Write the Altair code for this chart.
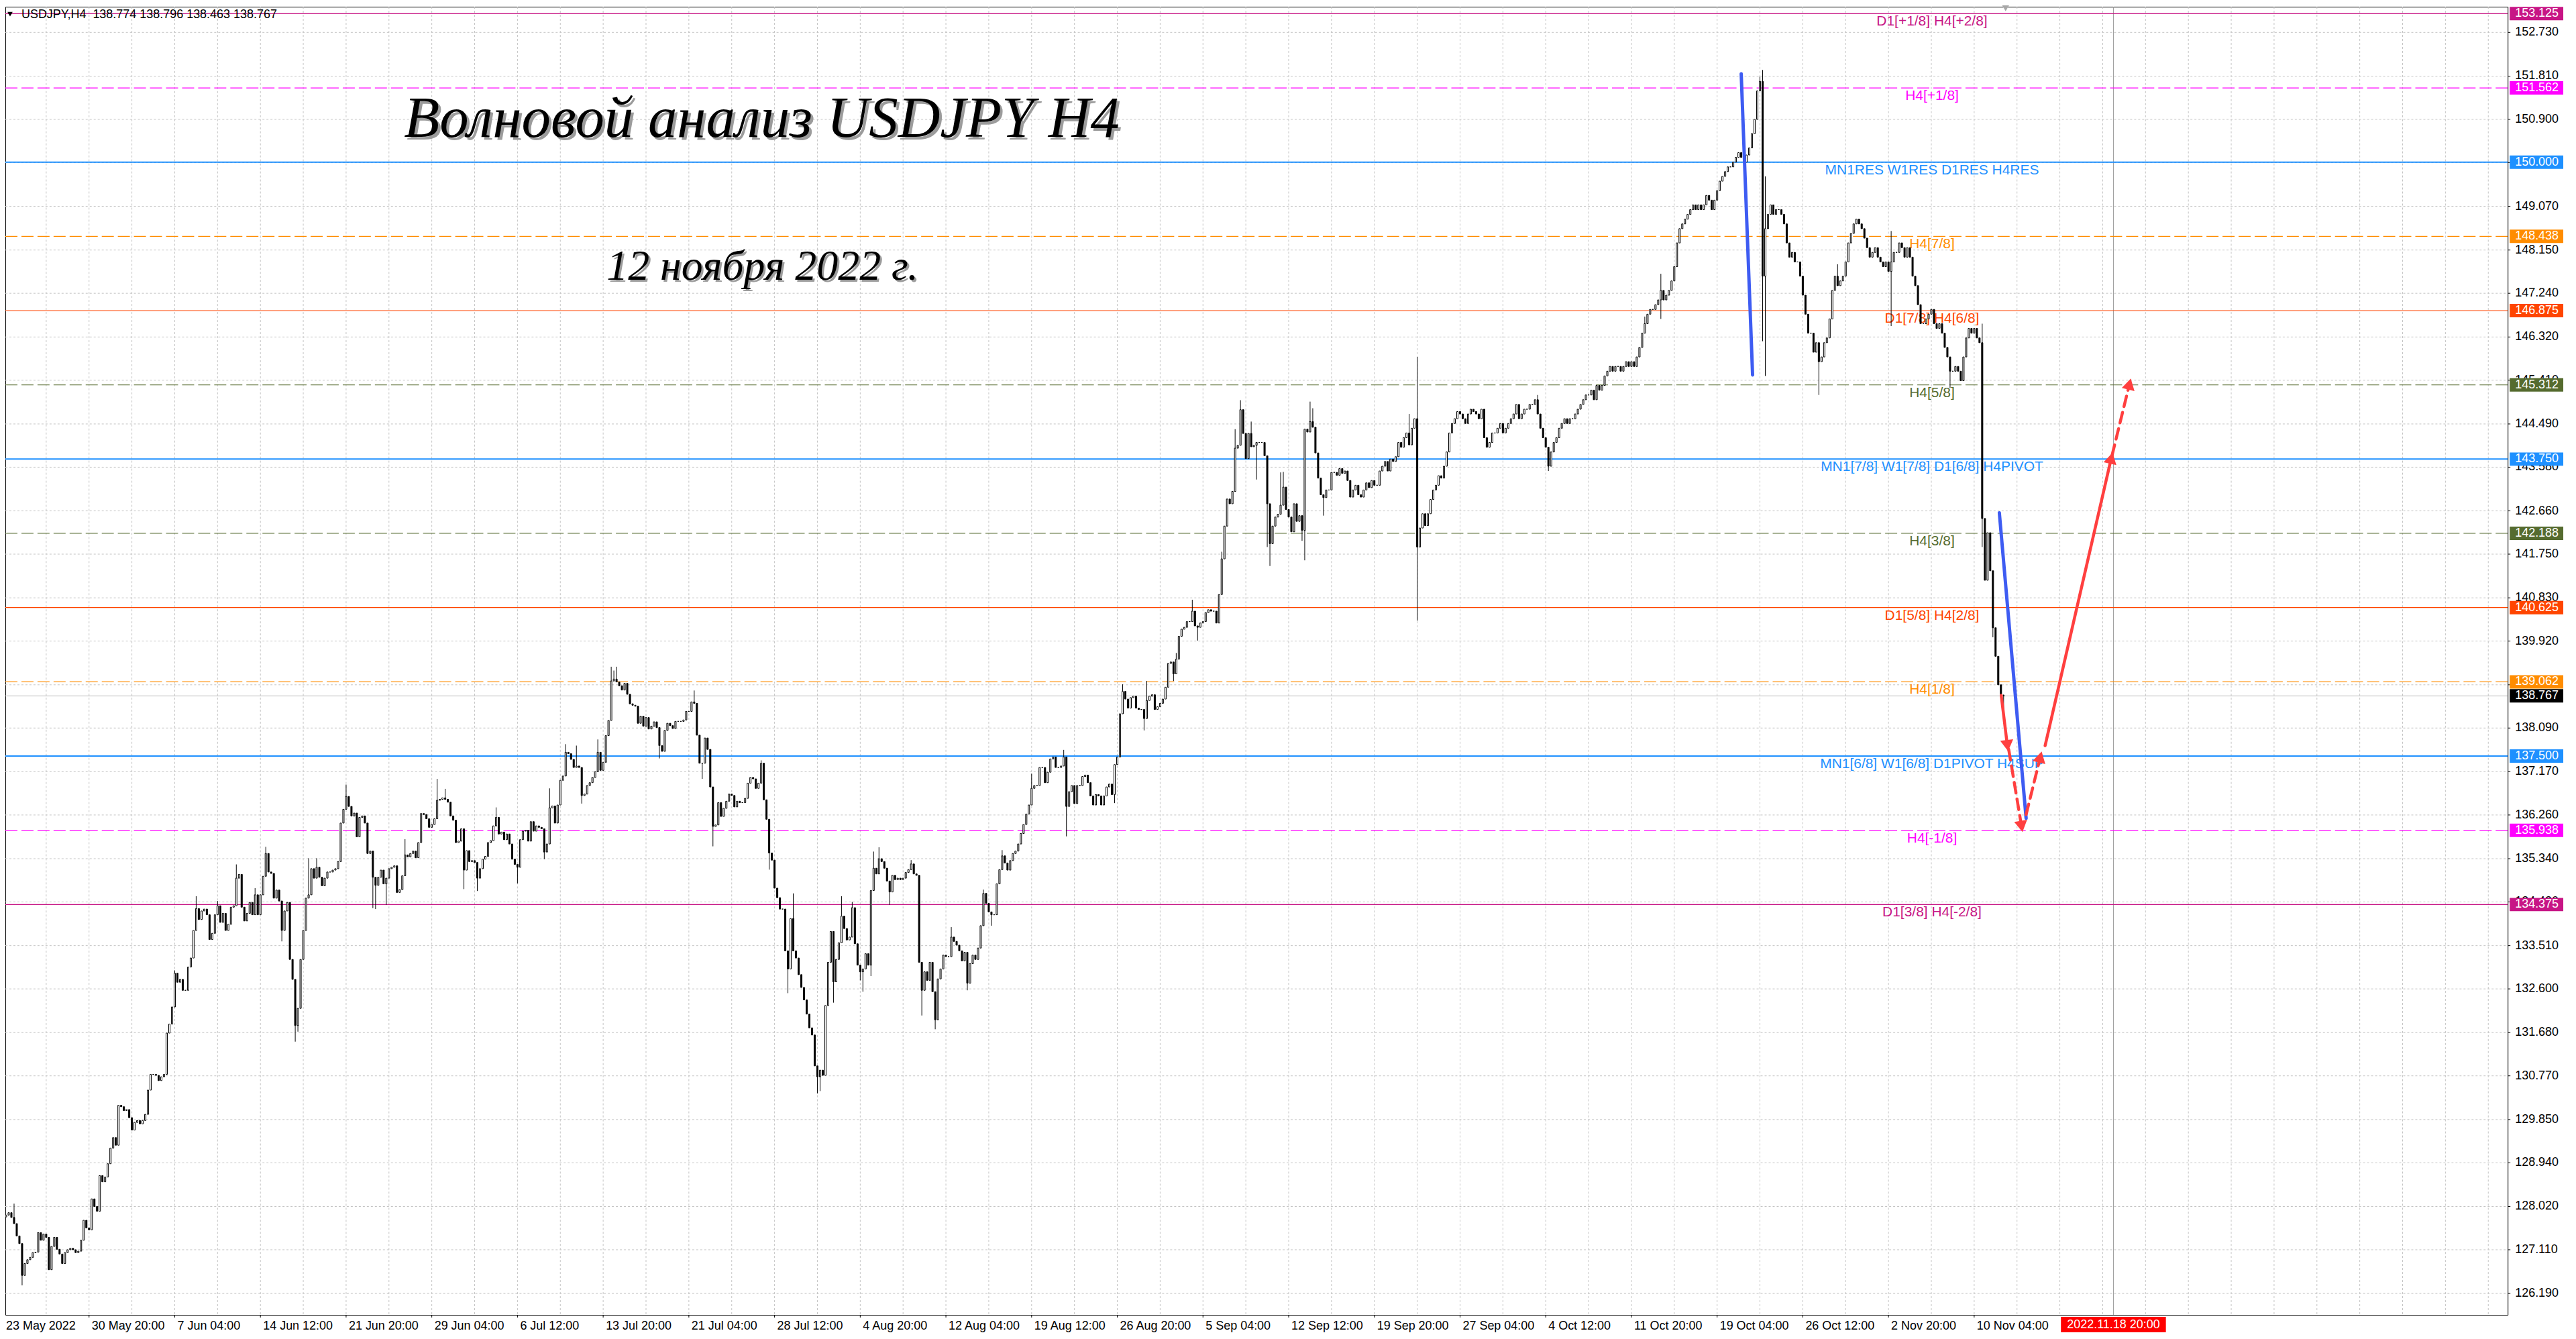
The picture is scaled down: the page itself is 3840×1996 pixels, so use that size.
import math
import altair as alt
import pandas as pd

# ---------------- layout ----------------
W, H = 3738, 1954
X0, X1 = 0.75, 935.25          # bar-index domain (4 px per bar)
Y0, Y1 = 125.74, 153.27        # price domain
PX_BAR = W / (X1 - X0)
PX_PRICE = H / (Y1 - Y0)

# ---------------- data ----------------
first_open = 127.37
closes_a = [127.80, 127.84, 127.89, 127.79, 127.66, 127.40, 127.24, 126.57, 126.82, 126.90,
            126.95, 127.05, 127.06, 127.47, 127.31, 127.44, 127.37, 126.69, 127.18, 127.37,
            127.12, 127.02, 126.82, 127.05, 127.11, 127.14, 127.11, 127.05, 127.08, 127.31,
            127.73, 127.57, 127.53, 128.18, 128.02, 127.92, 128.67, 128.54, 128.64, 128.92,
            129.25, 129.47, 129.31, 130.15, 130.12, 130.04, 130.06, 129.89, 129.63, 129.79,
            129.83, 129.76, 129.83, 129.96, 130.47, 130.80, 130.80, 130.78, 130.67, 130.75,
            130.80, 131.67, 131.86, 132.22, 132.93, 132.74, 132.80, 132.57, 132.57, 133.06,
            133.25, 133.83, 134.29, 134.06, 134.24, 134.28, 134.16, 133.64, 133.77, 134.16,
            134.35, 134.00, 134.19, 133.83, 133.96, 134.32, 134.35, 134.93, 135.01, 134.32,
            134.03, 134.19, 134.42, 134.16, 134.58, 134.16, 134.58, 134.97, 135.45, 135.06,
            135.03, 134.51, 134.68, 134.45, 133.83, 134.24, 134.42, 133.22, 132.80, 131.83,
            132.19, 133.22, 133.83, 134.51, 134.58, 135.13, 134.93, 135.16, 134.95, 134.77,
            134.93, 135.06, 135.06, 135.10]
closes_b = [135.13, 135.28, 136.09, 136.38, 136.65, 136.44, 136.24, 136.30, 135.80, 136.21,
            136.24, 136.09, 135.45, 135.50, 134.95, 134.78, 134.95, 135.10, 134.81, 134.93,
            135.13, 135.16, 135.19, 134.63, 134.69, 134.98, 135.42, 135.38, 135.45, 135.50,
            135.36, 135.68, 136.29, 136.27, 136.18, 136.00, 136.06, 136.18, 136.57, 136.59,
            136.62, 136.59, 136.53, 136.24, 136.15, 135.68, 135.71, 135.97, 135.10, 135.51,
            135.28, 135.30, 135.26, 134.93, 135.13, 135.33, 135.39, 135.68, 135.72, 136.03,
            136.21, 135.86, 135.90, 135.74, 135.86, 135.65, 135.33, 135.22, 135.16, 135.74,
            135.92, 135.94, 135.71, 136.12, 135.92, 136.03, 136.00, 135.97, 135.48, 135.65,
            136.41, 136.45, 136.09, 136.47, 136.99, 137.08, 137.58, 137.55, 137.43, 137.26,
            137.29, 137.26, 136.67, 136.70, 136.88, 136.94, 137.05, 137.17, 137.58, 137.20,
            137.37, 137.93, 138.25, 139.08, 139.12, 139.06, 138.98, 138.89, 139.03, 138.80,
            138.60, 138.57, 138.55, 138.19, 138.34, 138.13, 138.31, 138.07, 138.13, 138.22,
            138.10, 137.72, 137.60, 138.04, 138.19]
closes_c = [138.14, 138.08, 138.23, 138.23, 138.23, 138.26, 138.44, 138.44, 138.64, 138.61,
            137.94, 137.35, 137.35, 137.88, 137.64, 136.85, 136.02, 136.05, 136.52, 136.23,
            136.40, 136.55, 136.70, 136.67, 136.43, 136.55, 136.52, 136.52, 136.61, 136.93,
            137.05, 137.02, 136.82, 136.93, 137.35, 136.58, 136.17, 135.46, 135.31, 134.72,
            134.52, 134.28, 134.28, 133.40, 133.02, 134.08, 133.40, 133.25, 132.90, 132.63,
            132.37, 132.07, 131.78, 131.63, 130.98, 130.75, 130.89, 130.78, 132.25, 133.16,
            133.81, 132.75, 133.22, 133.57, 134.13, 133.87, 133.63, 133.69, 134.31, 133.55,
            133.10, 132.96, 133.02, 133.34, 133.10, 134.67, 135.14, 135.02, 135.34, 135.28,
            135.14, 134.87, 134.64, 134.99, 134.90, 134.93, 134.90, 134.93, 135.05, 135.11,
            135.23, 135.02, 134.99, 133.16, 132.57, 132.96, 132.78, 133.16, 132.54, 131.95,
            132.81, 133.02, 133.31, 133.28, 133.28, 133.69, 133.60, 133.52, 133.40, 133.19,
            133.37, 132.72, 133.13, 133.31, 133.22, 133.46, 133.93, 134.61, 134.40, 134.22,
            134.16, 134.16, 134.81, 135.11, 135.40]
closes_d = [135.25, 135.10, 135.30, 135.45, 135.50,
            135.65, 135.87, 136.06, 136.28, 136.47, 136.82, 136.88, 136.88, 137.26, 137.26,
            136.94, 137.16, 137.44, 137.48, 137.26, 137.26, 137.29, 137.48, 136.44, 136.75,
            136.88, 136.50, 136.88, 136.88, 137.07, 137.10, 136.94, 136.66, 136.47, 136.69,
            136.66, 136.47, 136.66, 136.85, 136.91, 136.69, 137.32, 137.48, 138.39, 138.86,
            138.70, 138.51, 138.73, 138.76, 138.51, 138.48, 138.48, 138.29, 138.67, 138.76,
            138.79, 138.48, 138.54, 138.61, 138.70, 138.95, 139.45, 139.48, 139.23, 139.54,
            140.02, 140.17, 140.21, 140.33, 140.33, 140.55, 140.24, 140.21, 140.30, 140.33,
            140.52, 140.58, 140.55, 140.55, 140.30, 140.90, 141.65, 142.34, 142.91, 142.81,
            143.07, 143.98, 144.04, 144.79, 144.29, 143.76, 144.29, 144.01, 144.04, 144.10,
            144.10, 144.10, 143.82, 142.81, 141.97, 142.34, 142.53, 142.59, 142.78, 143.16,
            142.69, 142.53, 142.22, 142.81, 142.44, 142.56, 142.25, 144.38, 144.32, 144.54,
            144.42, 143.88, 143.35, 143.00, 142.94, 143.10, 143.10, 143.47, 143.47, 143.41]
closes_e = [143.55, 143.45, 143.50,
            143.30, 142.95, 143.10, 143.20, 143.00, 142.95,
            143.10, 143.25, 143.15, 143.30, 143.20, 143.20,
            143.50, 143.60, 143.70, 143.50, 143.75, 143.70,
            143.80, 144.10, 144.00, 144.20, 144.30, 144.05,
            144.40, 144.60, 141.90, 142.30, 142.60, 142.35,
            142.60, 142.90, 143.10, 143.20, 143.40, 143.35,
            143.60, 143.90, 144.30, 144.50, 144.60, 144.75,
            144.70, 144.60, 144.50, 144.70, 144.80, 144.75,
            144.70, 144.60, 144.80, 144.20, 144.00, 144.10,
            144.30, 144.30, 144.40, 144.50, 144.30, 144.40,
            144.50, 144.60, 144.70, 144.90, 144.60, 144.70,
            144.80, 144.80, 144.90, 144.90, 145.00, 144.70,
            144.40, 144.20, 144.00, 143.60, 143.90, 144.10,
            144.20, 144.40, 144.50, 144.60, 144.50, 144.60,
            144.60, 144.70, 144.80, 144.90, 145.00, 145.10,
            145.10, 145.20, 145.00, 145.30, 145.20, 145.30,
            145.50, 145.60, 145.70, 145.60, 145.70, 145.70,
            145.60, 145.70, 145.80, 145.70, 145.80, 145.70,
            145.90, 146.10, 146.40, 146.60, 146.80, 146.90,
            146.90, 147.00, 147.10, 147.30, 147.10, 147.20,
            147.30, 147.50, 147.80, 148.30, 148.60, 148.70,
            148.80, 148.90, 149.00, 149.10, 149.00, 149.10,
            149.00, 149.10, 149.30, 149.20, 149.00, 149.20,
            149.40, 149.60, 149.70, 149.80, 149.90, 149.90,
            150.00, 150.10, 150.20, 150.10, 150.00, 150.15,
            150.30, 150.60, 150.90, 151.50, 151.70, 147.60,
            148.60, 148.90, 149.10, 148.90, 149.00, 149.00,
            148.90, 148.70, 148.30, 148.00, 148.10, 147.90,
            147.90, 147.60, 147.20, 146.80, 146.40, 146.40,
            146.00, 146.20, 145.80, 145.90, 146.20, 146.30,
            146.70, 147.30, 147.60, 147.40, 147.50, 147.60,
            147.90, 148.30, 148.50, 148.70, 148.80, 148.70,
            148.60, 148.40, 148.20, 148.00, 148.10, 148.20,
            148.00, 147.90, 147.80, 147.90, 147.70, 147.90,
            148.10, 148.10, 148.30, 148.20, 148.00, 148.20,
            148.00, 147.60, 147.40, 147.00, 146.60, 146.60,
            146.70, 146.80, 146.90, 146.60, 146.50, 146.60,
            146.40, 146.10, 145.90, 145.60, 145.60, 145.70,
            145.60, 145.40, 145.90, 146.30, 146.50, 146.40,
            146.50, 146.30, 146.20, 142.50, 141.20, 142.20,
            141.40, 140.20, 139.60, 139.00, 138.774, 138.767]

# visible wicks: bar index -> extreme
wick_high = {4: 128.08, 64: 132.99, 72: 134.55, 80: 134.45, 87: 135.22, 94: 134.72,
             98: 135.59, 114: 135.35, 117: 135.35, 128: 136.90, 150: 135.75, 162: 137.02,
             165: 136.81, 184: 136.42, 204: 136.82, 210: 137.75, 214: 137.72, 222: 137.85,
             227: 139.38, 228: 139.30, 229: 139.38, 258: 138.88, 283: 137.41, 295: 134.61,
             313: 134.55, 317: 134.43, 325: 135.49, 327: 135.58, 339: 135.31, 354: 133.90,
             366: 134.69, 373: 135.52, 384: 137.13, 396: 137.63, 418: 139.01, 427: 139.08,
             438: 139.67, 444: 140.79, 455: 141.80, 460: 144.38, 462: 144.99, 466: 144.54,
             477: 143.47, 478: 143.48, 488: 144.96, 489: 144.82, 525: 144.70, 528: 145.90,
             573: 145.10, 613: 146.75, 619: 147.65, 656: 151.80, 657: 151.94, 658: 149.70,
             685: 147.85, 705: 148.55, 739: 146.60, 747: 138.796}
wick_low = {7: 126.36, 104: 133.60, 109: 131.49, 110: 131.70, 138: 134.30, 139: 134.28,
            143: 134.37, 172: 134.70, 177: 134.66, 192: 134.82, 202: 135.33, 216: 136.50,
            245: 137.45, 261: 137.02, 265: 135.60, 286: 135.11, 293: 132.51, 304: 130.40,
            305: 130.45, 310: 132.31, 320: 132.78, 321: 132.54, 324: 132.87, 331: 134.37,
            343: 132.04, 348: 131.75, 360: 132.57, 369: 133.93, 397: 135.81, 415: 136.51,
            426: 138.04, 437: 139.08, 446: 139.93, 468: 143.32, 472: 141.90, 473: 141.50,
            485: 142.03, 486: 141.62, 493: 142.56, 528: 140.35, 577: 143.50, 619: 146.70,
            657: 146.23, 658: 145.50, 678: 145.10, 705: 146.55, 727: 145.25, 739: 141.90,
            743: 140.00, 747: 138.463}

price_ticks = [126.190, 127.110, 128.020, 128.940, 129.850, 130.770, 131.680, 132.600,
               133.510, 134.430, 135.340, 136.260, 137.170, 138.090, 139.000, 139.920,
               140.830, 141.750, 142.660, 143.580, 144.490, 145.410, 146.320, 147.240,
               148.150, 149.070, 149.990, 150.900, 151.810, 152.730]

time_labels = ["23 May 2022", "30 May 20:00", "7 Jun 04:00", "14 Jun 12:00", "21 Jun 20:00",
               "29 Jun 04:00", "6 Jul 12:00", "13 Jul 20:00", "21 Jul 04:00", "28 Jul 12:00",
               "4 Aug 20:00", "12 Aug 04:00", "19 Aug 12:00", "26 Aug 20:00", "5 Sep 04:00",
               "12 Sep 12:00", "19 Sep 20:00", "27 Sep 04:00", "4 Oct 12:00", "11 Oct 20:00",
               "19 Oct 04:00", "26 Oct 12:00", "2 Nov 20:00", "10 Nov 04:00"]
BARS_PER_LABEL = 32
BARS_PER_GRID = 16

level_prices = [153.125, 151.562, 150.000, 148.438, 146.875, 145.312, 143.750,
                142.188, 140.625, 139.062, 137.500, 135.938, 134.375]
level_names = ["D1[+1/8] H4[+2/8]", "H4[+1/8]", "MN1RES W1RES D1RES H4RES", "H4[7/8]",
               "D1[7/8] H4[6/8]", "H4[5/8]", "MN1[7/8] W1[7/8] D1[6/8] H4PIVOT", "H4[3/8]",
               "D1[5/8] H4[2/8]", "H4[1/8]", "MN1[6/8] W1[6/8] D1PIVOT H4SUP", "H4[-1/8]",
               "D1[3/8] H4[-2/8]"]
level_colors = ["#C71585", "#FF00FF", "#1E90FF", "#FF8C00", "#FF4500", "#556B2F", "#1E90FF",
                "#556B2F", "#FF4500", "#FF8C00", "#1E90FF", "#FF00FF", "#C71585"]
level_styles = ["solid", "dash", "thick", "dash", "solid", "dash", "thick",
                "dash", "solid", "dash", "thick", "dash", "solid"]
label_bar = 720.25

future_bar = 788
future_label = "2022.11.18 20:00"

# wave marks: (bar1, price1, bar2, price2)
blue_waves = [(649.0, 151.86, 653.25, 145.52), (745.4, 142.62, 755.4, 136.19)]
red_solid = [(746.1, 138.78, 748.4, 137.72), (762.5, 137.72, 787.2, 143.77)]
red_dashed = [(748.9, 137.64, 753.7, 136.02), (755.4, 136.27, 760.7, 137.48),
              (787.5, 143.83, 794.0, 145.33)]

title_text = "Волновой анализ USDJPY H4"
date_text = "12 ноября 2022 г."
symbol_text = "USDJPY,H4"

# ---------------- build tables ----------------
closes = closes_a + closes_b + closes_c + closes_d + closes_e
opens = [first_open] + closes[:-1]
rows = []
for i, c in enumerate(closes):
    o = opens[i]
    hi = max(o, c, wick_high.get(i, -1e9))
    lo = min(o, c, wick_low.get(i, 1e9))
    rows.append({"i": i, "o": o, "c": c, "h": hi, "l": lo,
                 "xl": i - 0.25, "xr": i + 0.25})
candles = pd.DataFrame(rows)
last = rows[-1]

xs = alt.Scale(domain=[X0, X1], nice=False, zero=False)
ys = alt.Scale(domain=[Y0, Y1], nice=False, zero=False)
AX = "Liberation Sans, Arial, sans-serif"

base = alt.Chart(candles)

# grid
pt = pd.DataFrame({"p": price_ticks, "t": [f"{v:.3f}" for v in price_ticks]})
hgrid = alt.Chart(pt).mark_rule(color="#C4C4C4", strokeDash=[3, 3], strokeWidth=1).encode(
    y=alt.Y("p:Q", scale=ys, axis=None), x=alt.value(0), x2=alt.value(W))
ytick = alt.Chart(pt).mark_rule(color="black", strokeWidth=1).encode(
    y=alt.Y("p:Q", scale=ys, axis=None), x=alt.value(W), x2=alt.value(W + 4))
ylab = alt.Chart(pt).mark_text(font=AX, fontSize=18, align="left", baseline="middle",
                               color="black").encode(
    y=alt.Y("p:Q", scale=ys, axis=None), x=alt.value(W + 11), text="t:N")

gbars = list(range(BARS_PER_GRID, int(X1) + 1, BARS_PER_GRID))
vgrid = alt.Chart(pd.DataFrame({"b": gbars})).mark_rule(
    color="#C4C4C4", strokeDash=[3, 3], strokeWidth=1
).encode(x=alt.X("b:Q", scale=xs, axis=None), y=alt.value(0), y2=alt.value(H))

# level lines
lv = pd.DataFrame({"p": level_prices, "name": level_names, "col": level_colors,
                   "style": level_styles, "lb": [label_bar] * len(level_prices)})
def level_layer(style, **kw):
    return alt.Chart(lv[lv["style"] == style]).mark_rule(**kw).encode(
        y=alt.Y("p:Q", scale=ys, axis=None),
        color=alt.Color("col:N", scale=None, legend=None),
        x=alt.value(0), x2=alt.value(W))
lv_solid = level_layer("solid", strokeWidth=1.2)
lv_thick = level_layer("thick", strokeWidth=2)
lv_dash = level_layer("dash", strokeWidth=1.2, strokeDash=[18, 6])

bid = alt.Chart(pd.DataFrame({"p": [last["c"]]})).mark_rule(
    color="#BDBDBD", strokeWidth=1).encode(
    y=alt.Y("p:Q", scale=ys, axis=None), x=alt.value(0), x2=alt.value(W))

lv_text = alt.Chart(lv).mark_text(
    font=AX, fontSize=21, align="center", baseline="middle", dy=12
).encode(x=alt.X("lb:Q", scale=xs, axis=None), y=alt.Y("p:Q", scale=ys, axis=None),
         text="name:N", color=alt.Color("col:N", scale=None, legend=None))

# future vertical line
fut = alt.Chart(pd.DataFrame({"b": [future_bar]})).mark_rule(
    color="#9A9A9A", strokeWidth=1).encode(
    x=alt.X("b:Q", scale=xs, axis=None), y=alt.value(0), y2=alt.value(H))

# candles
wicks = base.mark_rule(color="black", strokeWidth=1).encode(
    x=alt.X("i:Q", scale=xs, axis=None),
    y=alt.Y("l:Q", scale=ys, axis=None), y2="h:Q")
bodies = base.mark_rect(stroke="black", strokeWidth=1).encode(
    x=alt.X("xl:Q", scale=xs, axis=None), x2="xr:Q",
    y=alt.Y("o:Q", scale=ys, axis=None), y2="c:Q",
    fill=alt.condition("datum.c >= datum.o", alt.value("white"), alt.value("black")))

# waves
def seg_df(segs):
    return pd.DataFrame([{"x1": a, "y1": b, "x2": c, "y2": d} for a, b, c, d in segs])
def seg_layer(segs, color, width, dash=None):
    kw = dict(color=color, strokeWidth=width, strokeCap="round")
    if dash:
        kw["strokeDash"] = dash
    return alt.Chart(seg_df(segs)).mark_rule(**kw).encode(
        x=alt.X("x1:Q", scale=xs, axis=None), x2="x2:Q",
        y=alt.Y("y1:Q", scale=ys, axis=None), y2="y2:Q")
RED = "#FF3F3F"
BLUE = "#3E5CF2"
blue_l = seg_layer(blue_waves, BLUE, 5)
red_l = seg_layer(red_solid, RED, 4.5)
red_d = seg_layer(red_dashed, RED, 4.5, [16, 9])

heads = []
for a, b, c, d in red_solid + red_dashed:
    dxp = (c - a) * PX_BAR
    dyp = -(d - b) * PX_PRICE
    ang = math.degrees(math.atan2(dxp, -dyp)) % 360
    heads.append({"x": c, "y": d, "ang": ang})
arrow_heads = alt.Chart(pd.DataFrame(heads)).mark_point(
    shape="triangle-up", filled=True, color=RED, opacity=1, size=380, strokeWidth=0
).encode(x=alt.X("x:Q", scale=xs, axis=None), y=alt.Y("y:Q", scale=ys, axis=None),
         angle=alt.Angle("ang:Q", scale=None))

# right-side price tags
tag_prices = [last["c"]] + level_prices
tag_colors = ["#000000"] + level_colors
tags = pd.DataFrame({"p": tag_prices, "col": tag_colors,
                     "t": [f"{v:.3f}" for v in tag_prices]})
tag_rect = alt.Chart(tags).mark_rect(yOffset=-10, y2Offset=10).encode(
    y=alt.Y("p:Q", scale=ys, axis=None), y2="p:Q",
    x=alt.value(W + 3), x2=alt.value(W + 83),
    color=alt.Color("col:N", scale=None, legend=None))
tag_text = alt.Chart(tags).mark_text(
    font=AX, fontSize=18, align="left", baseline="middle", color="white"
).encode(y=alt.Y("p:Q", scale=ys, axis=None), x=alt.value(W + 11), text="t:N")

# time axis (bottom)
tl = pd.DataFrame({"b": [k * BARS_PER_LABEL for k in range(len(time_labels))],
                   "t": time_labels})
t_ticks = alt.Chart(tl).mark_rule(color="black", strokeWidth=1).encode(
    x=alt.X("b:Q", scale=xs, axis=None), y=alt.value(H), y2=alt.value(H + 4))
t_text = alt.Chart(tl).mark_text(
    font=AX, fontSize=18, align="left", baseline="middle", dx=4, color="black"
).encode(x=alt.X("b:Q", scale=xs, axis=None), y=alt.value(H + 17), text="t:N")

fbox = alt.Chart(pd.DataFrame({"a": [future_bar - 19.6], "b": [future_bar + 19.6],
                               "c": [future_bar], "t": [future_label]}))
f_rect = fbox.mark_rect(color="#FF0000").encode(
    x=alt.X("a:Q", scale=xs, axis=None), x2="b:Q", y=alt.value(H + 3), y2=alt.value(H + 26))
f_text = fbox.mark_text(font=AX, fontSize=18, color="white", align="center",
                        baseline="middle").encode(
    x=alt.X("c:Q", scale=xs, axis=None), y=alt.value(H + 15), text="t:N")

# top marker
marker = alt.Chart(pd.DataFrame({"b": [747.75]})).mark_point(
    shape="triangle-down", filled=True, color="#A8A8A8", size=120, opacity=1).encode(
    x=alt.X("b:Q", scale=xs, axis=None), y=alt.value(2))

# header
hdr = f"{symbol_text}\u00a0\u00a0{last['o']:.3f} {last['h']:.3f} {last['l']:.3f} {last['c']:.3f}"
one = pd.DataFrame({"t": [hdr]})
hdr_text = alt.Chart(one).mark_text(font=AX, fontSize=18, align="left", baseline="middle",
                                    color="black").encode(
    x=alt.value(24), y=alt.value(12), text="t:N")
hdr_tri = alt.Chart(one).mark_point(shape="triangle-down", filled=True, color="black",
                                    size=60, opacity=1).encode(x=alt.value(7), y=alt.value(11))

# titles
TF = "Liberation Serif, DejaVu Serif, serif"
tt = pd.DataFrame({"t": [title_text]})
dt = pd.DataFrame({"t": [date_text]})
title_sh = alt.Chart(tt).mark_text(font=TF, fontSize=87, fontStyle="italic", color="#9C9C9C",
                                   align="center", baseline="middle").encode(
    x=alt.value(1134), y=alt.value(172), text="t:N")
title_tx = alt.Chart(tt).mark_text(font=TF, fontSize=87, fontStyle="italic", color="black",
                                   align="center", baseline="middle").encode(
    x=alt.value(1130), y=alt.value(168), text="t:N")
date_sh = alt.Chart(dt).mark_text(font=TF, fontSize=64, fontStyle="italic", color="#9C9C9C",
                                  align="center", baseline="middle").encode(
    x=alt.value(1134), y=alt.value(392), text="t:N")
date_tx = alt.Chart(dt).mark_text(font=TF, fontSize=64, fontStyle="italic", color="black",
                                  align="center", baseline="middle").encode(
    x=alt.value(1131), y=alt.value(389), text="t:N")

chart = alt.layer(
    hgrid, vgrid, fut, bid, lv_solid, lv_dash, lv_thick, lv_text,
    wicks, bodies, blue_l, red_l, red_d, arrow_heads,
    ytick, ylab, tag_rect, tag_text, t_ticks, t_text, f_rect, f_text, marker,
    hdr_tri, hdr_text, title_sh, title_tx, date_sh, date_tx
).properties(
    width=W, height=H,
    padding={"left": 0, "top": 0, "right": 94, "bottom": 34},
    autosize=alt.AutoSizeParams(type="none"),
    background="white",
).configure_view(stroke="black", strokeWidth=1)

chart.save("out.html", embed_options={"renderer": "svg", "actions": False})
